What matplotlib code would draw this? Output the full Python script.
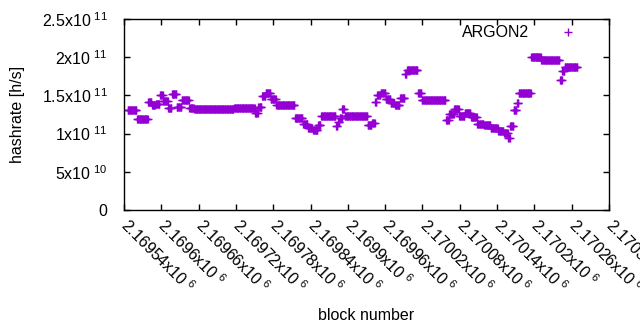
import matplotlib
matplotlib.use('Agg')
import matplotlib.pyplot as plt
import numpy as np

plt.rcParams.update({
    'font.family': 'Liberation Sans',
    'font.size': 11.5,
    'mathtext.fontset': 'custom',
    'mathtext.rm': 'Liberation Sans',
    'mathtext.default': 'regular',
    'xtick.direction': 'in',
    'ytick.direction': 'in',
    'axes.linewidth': 1,
})

# hashrate estimate per block, stored as runs of constant value
# (first block of each run, value in units of 1e11 h/s)
run_start = [2169546, 2169561, 2169579, 2169585, 2169591, 2169598, 2169603, 2169611,
             2169617, 2169625, 2169633, 2169645, 2169653, 2169717, 2169751, 2169756,
             2169762, 2169768, 2169776, 2169785, 2169815, 2169828, 2169836, 2169844,
             2169852, 2169857, 2169881, 2169884, 2169887, 2169891, 2169895, 2169932,
             2169939, 2169944, 2169947, 2169953, 2169961, 2169969, 2169976, 2169984,
             2169992, 2169995, 2170013, 2170019, 2170058, 2170063, 2170071, 2170079,
             2170088, 2170098, 2170108, 2170119, 2170130, 2170142, 2170151, 2170158,
             2170161, 2170167, 2170172, 2170175, 2170195, 2170211, 2170241, 2170245,
             2170249]
run_value = [1.31, 1.19, 1.41, 1.37, 1.39, 1.50, 1.43, 1.33,
             1.52, 1.35, 1.44, 1.33, 1.32, 1.335, 1.27, 1.35,
             1.49, 1.53, 1.45, 1.37, 1.20, 1.13, 1.07, 1.05,
             1.11, 1.23, 1.10, 1.15, 1.20, 1.32, 1.23, 1.11,
             1.14, 1.41, 1.50, 1.53, 1.45, 1.40, 1.37, 1.47,
             1.78, 1.83, 1.53, 1.44, 1.18, 1.26, 1.32, 1.23,
             1.27, 1.22, 1.13, 1.11, 1.07, 1.03, 1.01, 0.94,
             1.10, 1.31, 1.40, 1.53, 2.00, 1.96, 1.70, 1.82,
             1.87]
last_block = 2170270

xtick_values = [2169540, 2169600, 2169660, 2169720, 2169780, 2169840, 2169900,
                2169960, 2170020, 2170080, 2170140, 2170200, 2170260, 2170320]
ytick_values = [0, 5e10, 1e11, 1.5e11, 2e11, 2.5e11]
ytick_labels = ['0', '5x10$^{\\ 10}$', '1x10$^{\\ 11}$', '1.5x10$^{\\ 11}$',
                '2x10$^{\\ 11}$', '2.5x10$^{\\ 11}$']

# expand runs into one point per block
ends = run_start[1:] + [last_block]
blocks = np.concatenate([np.arange(s, e) for s, e in zip(run_start, ends)])
hashrate = np.concatenate([np.full(e - s, v) for s, e, v in zip(run_start, ends, run_value)]) * 1e11

fig = plt.figure(figsize=(6.4, 3.3), dpi=100)
ax = fig.add_axes([124/640, 1 - 210/330, (609 - 124)/640, (210 - 19)/330])

ax.plot(blocks, hashrate, linestyle='none', marker='+', markersize=6,
        markeredgewidth=1.0, color='#9400D3', label='ARGON2')

ax.set_xlim(xtick_values[0], xtick_values[-1])
ax.set_ylim(0, 2.5e11)
ax.set_xticks(xtick_values)
ax.set_xticklabels(['%gx10$^{\\ 6}$' % (v / 1e6) for v in xtick_values],
                   rotation=-45, ha='left', va='center', rotation_mode='anchor')
ax.set_yticks(ytick_values)
ax.set_yticklabels(ytick_labels)
ax.tick_params(top=True, right=True, length=4, width=1)
ax.tick_params(axis='x', pad=9)
ax.tick_params(axis='y', pad=12)

ax.set_xlabel('block number')
ax.xaxis.set_label_coords(0.5, -0.515)
ax.set_ylabel('hashrate [h/s]')
ax.yaxis.set_label_coords(-0.204, 0.5)

ax.legend(loc='upper right', frameon=False, markerfirst=False, handlelength=2.5,
          handletextpad=1.2, bbox_to_anchor=(0.98, 1.026), borderaxespad=0.3)

fig.savefig('out.png', dpi=100)
